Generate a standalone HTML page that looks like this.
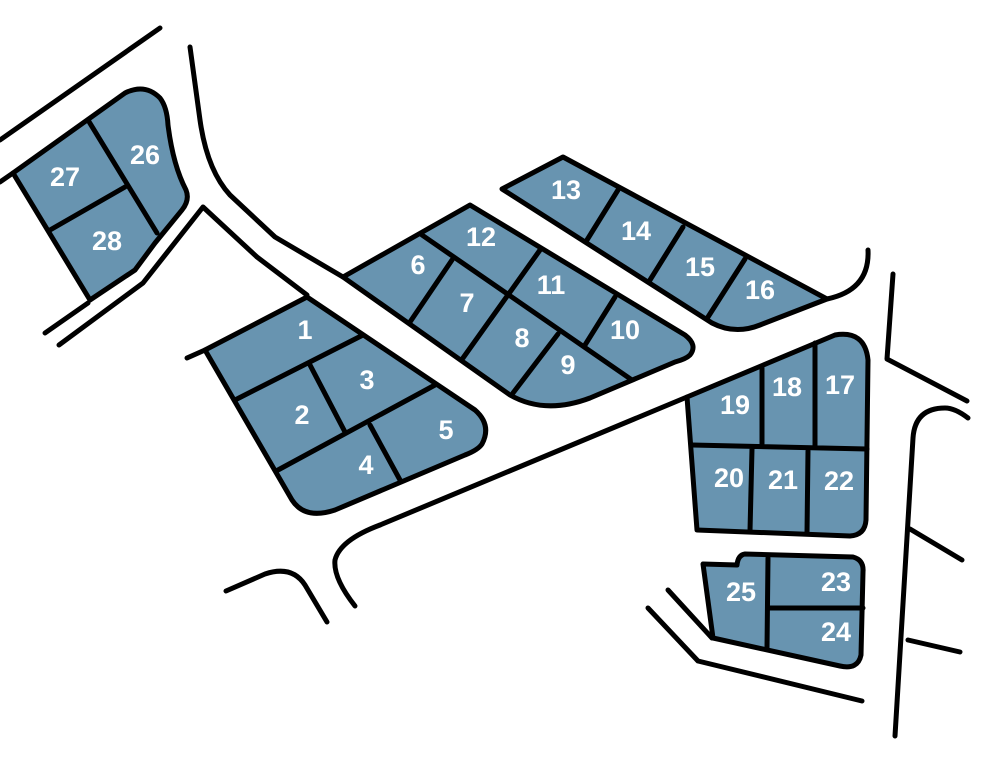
<!DOCTYPE html>
<html><head><meta charset="utf-8"><style>
html,body{margin:0;padding:0;background:#fff;}
svg{display:block}
text{font-family:"Liberation Sans",sans-serif;font-weight:bold;fill:#fff;font-size:27px;text-anchor:middle;dominant-baseline:central}
</style></head><body>
<svg width="1004" height="758" viewBox="0 0 1004 758" xmlns="http://www.w3.org/2000/svg">
<g fill="#6894b0" stroke="#000" stroke-width="5" stroke-linejoin="round" stroke-linecap="round">
<path d="M13,173 L125,93 Q145,83 160,98 Q167,107 168,125 Q173,165 186,190 Q190,200 182,210 L155,243 L135,270 L90,300 Z"/>
<path d="M205,350 L307,297 L475,410 Q492,425 482,444 Q478,450 465,455 L335,510 Q305,520 292,500 Z"/>
<path d="M343,277 L470,205 L685,335 Q698,345 690,355 Q686,359 675,362 L590,398 Q545,415 510,395 Z"/>
<path d="M502,189 L563,157 L827,299 L760,325 Q735,335 712,323 Z"/>
<path d="M687,397 L835,335 Q865,330 868,360 L866,520 Q865,535 850,536 L697,530 Z"/>
<path d="M703,564 L737,565 Q738,555 745,554 L853,557 Q864,560 863,572 L861,655 Q858,670 840,666 L713,638 Z"/>
</g>
<g fill="none" stroke="#000" stroke-width="5" stroke-linecap="round" stroke-linejoin="round">
<path d="M88,120 L157,233 M50,230 L125,187"/>
<path d="M235,400 L363,335 M310,365 L345,432 M278,470 L435,385 M370,425 L400,480"/>
<path d="M422,235 L632,380 M452,260 L410,322 M540,250 L463,358 M615,297 L585,345 M558,334 L513,393"/>
<path d="M618,190 L587,240 M683,227 L650,280 M745,259 L708,317"/>
<path d="M692,445 L867,449 M762,368 L762,445 M815,343 L815,447 M752,449 L750,531 M808,451 L807,533"/>
<path d="M768,558 L767,648 M768,608 L863,608"/>
<path d="M0,140 L160,28"/>
<path d="M0,182 L13,173"/>
<path d="M45,333 L88,303"/>
<path d="M59,345 L143,283 L203,207 L257,257 L307,295"/>
<path d="M190,47 L200,120 Q207,170 230,195 L275,237 L343,277"/>
<path d="M187,358 L205,350"/>
<path d="M380,525 L687,397"/>
<path d="M380,525 Q340,540 335,560 Q333,578 355,606"/>
<path d="M226,591 L265,574 Q292,565 305,585 L327,622"/>
<path d="M868,250 Q870,290 827,299"/>
<path d="M668,590 L712,638"/>
<path d="M648,608 L698,661 L862,701"/>
<path d="M893,274 L887,359 L967,401"/>
<path d="M968,418 Q955,408 945,408 Q915,408 913,438 L895,736"/>
<path d="M910,529 L962,560 M908,640 L960,652"/>
</g>
<text x="305" y="330">1</text>
<text x="302" y="415">2</text>
<text x="367" y="380">3</text>
<text x="366" y="465">4</text>
<text x="446" y="430">5</text>
<text x="418" y="265">6</text>
<text x="467" y="303">7</text>
<text x="522" y="338">8</text>
<text x="568" y="365">9</text>
<text x="625" y="330">10</text>
<text x="551" y="285">11</text>
<text x="481" y="237">12</text>
<text x="566" y="190">13</text>
<text x="636" y="231">14</text>
<text x="700" y="267">15</text>
<text x="760" y="290">16</text>
<text x="840" y="385">17</text>
<text x="787" y="387">18</text>
<text x="735" y="405">19</text>
<text x="729" y="478">20</text>
<text x="783" y="480">21</text>
<text x="839" y="481">22</text>
<text x="836" y="582">23</text>
<text x="836" y="632">24</text>
<text x="741" y="592">25</text>
<text x="145" y="155">26</text>
<text x="65" y="177">27</text>
<text x="107" y="241">28</text>
</svg>
</body></html>
